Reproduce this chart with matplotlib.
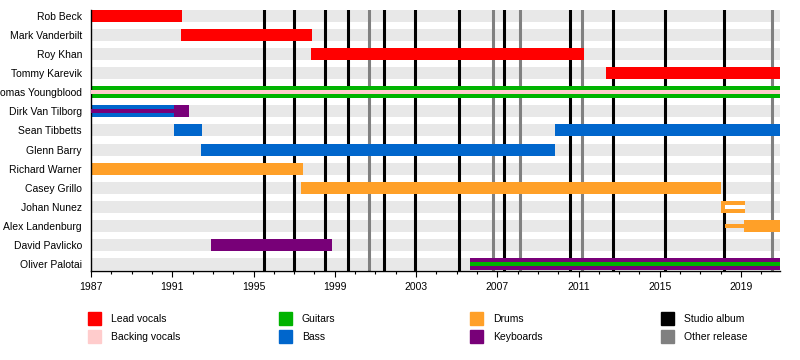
import matplotlib
matplotlib.use('Agg')

import matplotlib.pyplot as plt
from matplotlib.patches import Rectangle

plt.rcParams['font.family'] = ['Liberation Sans', 'DejaVu Sans']

START = 1987.0
END = 2020.92

members = ['Rob Beck', 'Mark Vanderbilt', 'Roy Khan', 'Tommy Karevik', 'Thomas Youngblood',
           'Dirk Van Tilborg', 'Sean Tibbetts', 'Glenn Barry', 'Richard Warner', 'Casey Grillo',
           'Johan Nunez', 'Alex Landenburg', 'David Pavlicko', 'Oliver Palotai']

role_colors = {
    'Lead vocals': '#FF0000',
    'Backing vocals': '#FFCCCC',
    'Guitars': '#00B300',
    'Bass': '#0066CC',
    'Drums': '#FFA028',
    'Keyboards': '#780078',
    'Blank': '#FFFFFF',
}

# (member, from, till, role, thin stripe?)
stints = [
    ('Rob Beck', 1987.0, 1991.48, 'Lead vocals', False),
    ('Mark Vanderbilt', 1991.43, 1997.88, 'Lead vocals', False),
    ('Roy Khan', 1997.83, 2011.28, 'Lead vocals', False),
    ('Tommy Karevik', 2012.36, END, 'Lead vocals', False),
    ('Thomas Youngblood', 1987.0, END, 'Guitars', False),
    ('Thomas Youngblood', 1987.0, END, 'Backing vocals', True),
    ('Dirk Van Tilborg', 1987.0, 1991.08, 'Bass', False),
    ('Dirk Van Tilborg', 1987.0, 1991.08, 'Keyboards', True),
    ('Dirk Van Tilborg', 1991.08, 1991.82, 'Keyboards', False),
    ('Sean Tibbetts', 1991.08, 1992.46, 'Bass', False),
    ('Sean Tibbetts', 2009.84, END, 'Bass', False),
    ('Glenn Barry', 1992.41, 2009.84, 'Bass', False),
    ('Richard Warner', 1987.0, 1997.43, 'Drums', False),
    ('Casey Grillo', 1997.33, 2018.0, 'Drums', False),
    ('Johan Nunez', 2018.0, 2019.19, 'Drums', False),
    ('Johan Nunez', 2018.2, 2019.19, 'Blank', True),
    ('Alex Landenburg', 2018.2, 2019.14, 'Drums', True),
    ('Alex Landenburg', 2019.14, END, 'Drums', False),
    ('David Pavlicko', 1992.9, 1998.86, 'Keyboards', False),
    ('Oliver Palotai', 2005.65, END, 'Keyboards', False),
    ('Oliver Palotai', 2005.65, END, 'Guitars', True),
]

studio_albums = [1995.53, 1997.0, 1998.53, 1999.66, 2001.43, 2002.96, 2005.13,
                 2007.34, 2010.6, 2012.72, 2015.27, 2018.17]
other_releases = [2000.7, 2006.8, 2008.13, 2011.19, 2020.55]

legend_labels = ['Lead vocals', 'Backing vocals', 'Guitars', 'Bass', 'Drums', 'Keyboards',
                 'Studio album', 'Other release']
legend_colors = ['#FF0000', '#FFCCCC', '#00B300', '#0066CC', '#FFA028', '#780078',
                 '#000000', '#808080']

BAR_H = 0.63
THIN_H = 0.21
FS = 7.5

fig = plt.figure(figsize=(8, 3.6), dpi=100)
ax = fig.add_axes([91 / 800, 1 - 271 / 360, 689 / 800, 261 / 360])

rows = {m: i for i, m in enumerate(members)}

# background bands
ax.barh(range(len(members)), END - START, left=START, height=BAR_H, color='#E8E8E8', zorder=0)

for x in studio_albums:
    ax.axvline(x, color='black', lw=2.2, zorder=1)
for x in other_releases:
    ax.axvline(x, color='#808080', lw=2.2, zorder=1)

for who, a, b, role, thin in stints:
    ax.barh(rows[who], b - a, left=a, height=THIN_H if thin else BAR_H,
            color=role_colors[role], zorder=3 if thin else 2)

ax.set_xlim(START, END)
ax.set_ylim(len(members) - 1 + BAR_H / 2 + 0.05, -BAR_H / 2)
ax.set_yticks(range(len(members)))
ax.set_yticklabels(members, fontsize=FS)
ax.tick_params(axis='y', length=0, pad=6.5)

ax.set_xticks(range(1987, 2021, 4))
ax.set_xticks(range(1987, 2021), minor=True)
ax.tick_params(axis='x', which='major', length=4, width=0.8, labelsize=FS, pad=4)
ax.tick_params(axis='x', which='minor', length=2.2, width=0.8)

for s in ['top', 'right']:
    ax.spines[s].set_visible(False)
for s in ['left', 'bottom']:
    ax.spines[s].set_linewidth(1.0)

# legend, laid out in four columns of two
for i, (lab, col) in enumerate(zip(legend_labels, legend_colors)):
    cx = 88 + 191 * (i // 2)
    cy = 312 + 18 * (i % 2)
    fig.patches.append(Rectangle((cx / 800, 1 - (cy + 13) / 360), 13 / 800, 13 / 360,
                                 transform=fig.transFigure, color=col))
    fig.text((cx + 23) / 800, 1 - (cy + 7) / 360, lab, fontsize=FS, va='center', ha='left')

fig.savefig('out.png', dpi=100)
